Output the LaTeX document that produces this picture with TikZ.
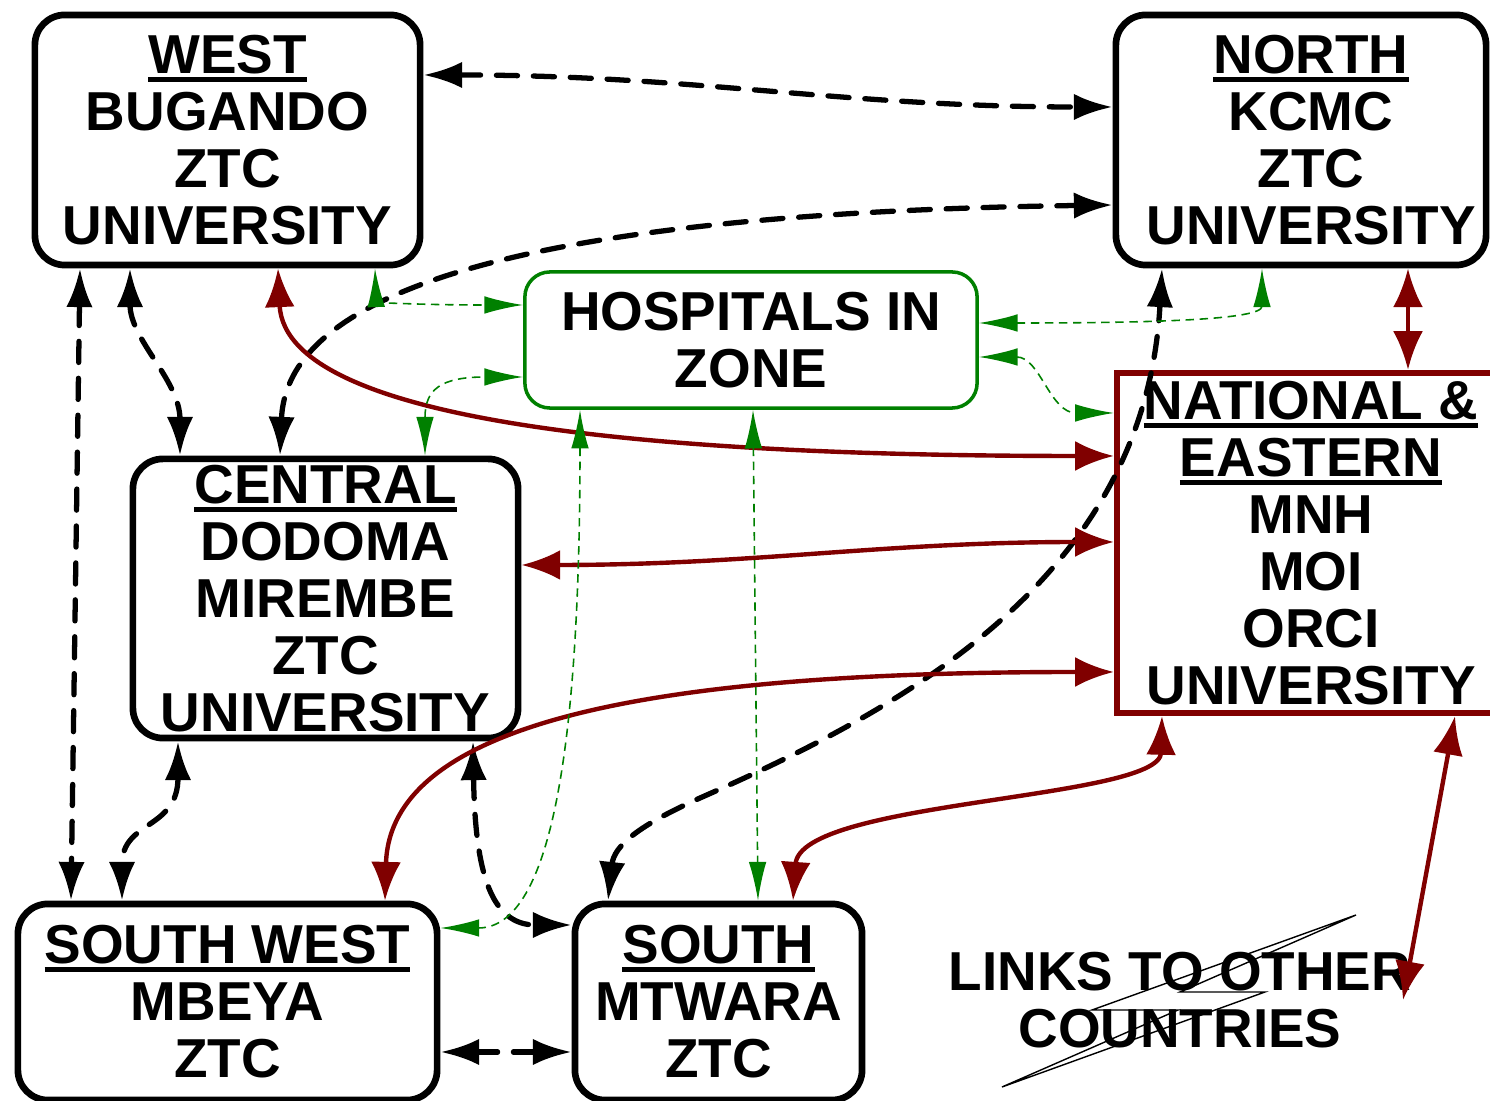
\documentclass[tikz,border=0pt]{standalone}
\usepackage{fontspec}
\setmainfont{Liberation Sans}
\usetikzlibrary{arrows.meta}
\definecolor{zonemaroon}{RGB}{128,0,0}
\definecolor{zonegreen}{RGB}{0,128,0}
\newcommand{\zoneul}[1]{\leavevmode\setbox0\hbox{#1}\rlap{\copy0}\rule[-2.3pt]{\wd0}{1.3pt}}

\begin{document}
\begin{tikzpicture}[x=0.01cm, y=-0.01cm,
    every node/.style={font=\fontsize{15.6}{16.2}\selectfont\bfseries, align=center, inner sep=0pt},
    zonebox/.style={draw, line width=1.9pt, rounded corners=0.3cm},
    hospbox/.style={draw=zonegreen, line width=1pt, rounded corners=0.25cm},
    natbox/.style={draw=zonemaroon, line width=1.7pt},
    ztclink/.style={{Latex[length=11pt,width=7.5pt]}-{Latex[length=11pt,width=7.5pt]}, line width=1.5pt, dash pattern=on 6pt off 4.5pt, line cap=round},
    natlink/.style={{Latex[length=11pt,width=8.5pt]}-{Latex[length=11pt,width=8.5pt]}, zonemaroon, line width=1.25pt},
    hosplink/.style={{Latex[length=11pt,width=5pt]}-{Latex[length=11pt,width=5pt]}, zonegreen, line width=0.45pt, dash pattern=on 2.4pt off 1.6pt}]
    \useasboundingbox (0,0) rectangle (1490,1101);

    \node[zonebox, minimum width=3.85cm, minimum height=2.5cm] (west) at (227.5,140) {\zoneul{WEST}\\BUGANDO\\ZTC\\UNIVERSITY};
    \node[zonebox, minimum width=3.7cm, minimum height=2.5cm] (north) at (1301,140) {\hspace*{0.2cm}\zoneul{NORTH}\\\hspace*{0.2cm}KCMC\\\hspace*{0.2cm}ZTC\\\hspace*{0.2cm}UNIVERSITY};
    \node[hospbox, minimum width=4.52cm, minimum height=1.36cm] (hosp) at (751,340) {HOSPITALS IN\\ZONE};
    \node[natbox, minimum width=3.88cm, minimum height=3.4cm] (national) at (1311,543) {\zoneul{NATIONAL \&}\\\zoneul{EASTERN}\\MNH\\MOI\\ORCI\\UNIVERSITY};
    \node[zonebox, minimum width=3.85cm, minimum height=2.79cm] (central) at (325.5,598.5) {\zoneul{CENTRAL}\\DODOMA\\MIREMBE\\ZTC\\UNIVERSITY};
    \node[zonebox, minimum width=4.19cm, minimum height=1.96cm] (southwest) at (227.5,1002) {\zoneul{SOUTH WEST}\\MBEYA\\ZTC};
    \node[zonebox, minimum width=2.87cm, minimum height=1.96cm] (south) at (718.5,1002) {\zoneul{SOUTH}\\MTWARA\\ZTC};
    \node (links) at (1180,1000) {LINKS TO OTHER\\COUNTRIES};
    \coordinate (linksend) at (1403,1000);
    \draw[line width=0.4pt] (1356,915) -- (1092,1010) -- (1178,1010) -- (1002,1087) -- (1265,992) -- (1180,992) -- cycle;

    \draw[ztclink] (west.east |- 0,75) to[out=0,in=180] (north.west |- 0,107);
    \draw[ztclink] (central.north -| 280,0) .. controls (285,330) and (400,215) .. (north.west |- 0,205);
    \draw[ztclink] (west.south -| 130,0) .. controls (130,340) and (180,380) .. (central.north -| 180,0);
    \draw[ztclink] (west.south -| 80,0) -- (southwest.north -| 71,0);
    \draw[ztclink] (central.south -| 178,0) .. controls (178,830) and (122,820) .. (southwest.north -| 122,0);
    \draw[ztclink] (central.south -| 473,0) .. controls (475,870) and (490,925) .. (south.west |- 0,925);
    \draw[ztclink] (southwest.east |- 0,1052) -- (south.west |- 0,1052);
    \draw[ztclink] (south.north -| 608,0) .. controls (614,845) and (640,825) .. (700,798) .. controls (900,710) and (1145,580) .. (north.south -| 1162,0);

    \draw[natlink] (west.south -| 278,0) .. controls (285,430) and (700,456) .. (national.west |- 0,456);
    \draw[natlink] (national.west |- 0,542) to[out=180,in=0] (central.east |- 0,565);
    \draw[natlink] (national.west |- 0,672) .. controls (700,672) and (390,710) .. (southwest.north -| 385,0);
    \draw[natlink] (national.south -| 1162,0) .. controls (1160,800) and (800,800) .. (south.north -| 793,0);
    \draw[natlink] (north.south -| 1408,0) -- (national.north -| 1408,0);
    \draw[natlink] (national.south -| 1455,0) -- (linksend);

    \draw[hosplink] (west.south -| 375,0) .. controls (376,300) and (390,305) .. (hosp.west |- 0,305);
    \draw[hosplink] (central.north -| 425,0) .. controls (425,390) and (440,377) .. (hosp.west |- 0,377);
    \draw[hosplink] (hosp.east |- 0,323) .. controls (1150,323) and (1262,320) .. (north.south -| 1262,0);
    \draw[hosplink] (hosp.east |- 0,357) .. controls (1040,357) and (1050,413) .. (national.west |- 0,413);
    \draw[hosplink] (hosp.south -| 580,0) .. controls (580,700) and (560,928) .. (southwest.east |- 0,928);
    \draw[hosplink] (hosp.south -| 753,0) -- (south.north -| 758,0);
\end{tikzpicture}
\end{document}
